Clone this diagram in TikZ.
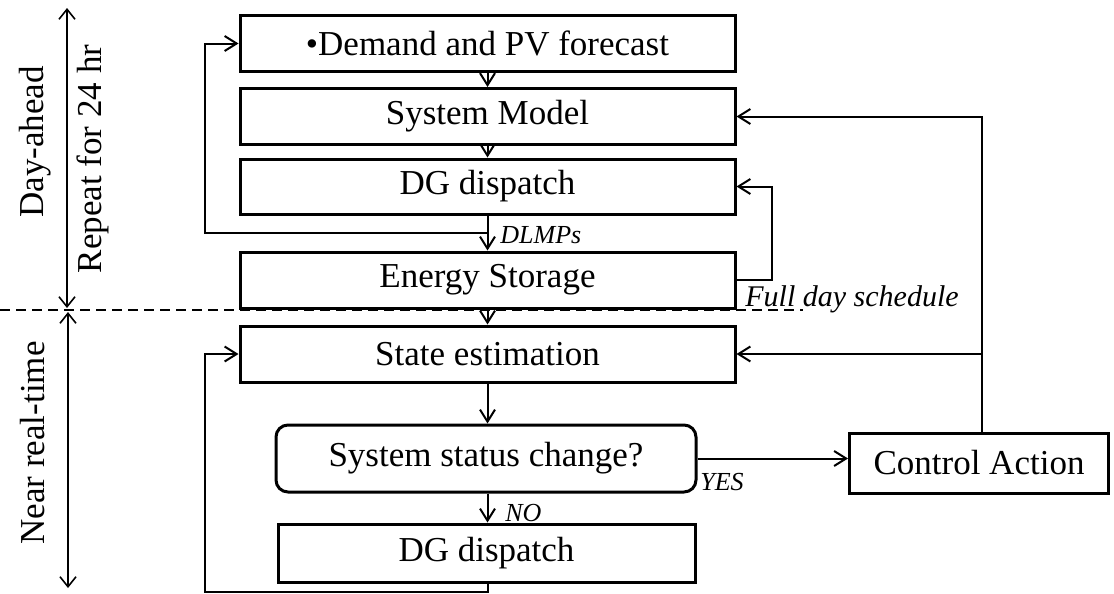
\documentclass[tikz,border=0pt]{standalone}
\usepackage{fontspec}
\setmainfont{Liberation Serif}
\usetikzlibrary{arrows.meta}
\begin{document}
\begin{tikzpicture}[x=0.5pt,y=-0.5pt,
  box/.style={draw, line width=1.5pt, inner sep=0pt, minimum width=247.5pt, minimum height=28pt, font=\fontsize{17.5}{20}\selectfont},
  arr/.style={line width=1pt, -{Straight Barb[length=6pt,width=7.5pt,line width=1pt]}},
  span/.style={line width=0.8pt, {Straight Barb[length=5pt,width=8pt,line width=0.8pt]}-{Straight Barb[length=5pt,width=8pt,line width=0.8pt]}},
  lab/.style={font=\fontsize{13}{15}\selectfont\itshape, inner sep=0pt},
  side/.style={font=\fontsize{17.5}{20}\selectfont, rotate=90, inner sep=0pt}]
\useasboundingbox (0,0) rectangle (1114,594);

% boxes
\node[box] (dem) at (487.5,43.5) {\textbullet Demand and PV forecast};
\node[box] (sysm) at (487.5,116.5) {System Model};
\node[box, minimum height=27.5pt] (dg1) at (487.5,186.5) {DG dispatch};
\node[box] (es) at (487.5,280) {Energy Storage};
\node[box] (se) at (487.5,354) {State estimation};
\node[box, rounded corners=6pt, minimum width=210pt, minimum height=33.5pt] (dec) at (486,458.5) {System status change?};
\node[box, minimum width=208.5pt, minimum height=29pt] (dg2) at (486.5,553) {DG dispatch};
\node[box, minimum width=129.5pt, minimum height=30pt] (ca) at (979,463) {Control Action};

% phase separator
\draw[line width=0.8pt, dash pattern=on 5pt off 3pt] (0,310) -- (803,310);

% side annotations
\coordinate (da1) at (67,8);
\coordinate (da2) at (67,308);
\coordinate (nr1) at (68,312);
\coordinate (nr2) at (68,588);
\draw[span] (da1) -- (da2);
\draw[span] (nr1) -- (nr2);
\node[side] (tday) at (35,142) {Day-ahead};
\node[side] (trep) at (93,159) {Repeat for 24 hr};
\node[side] (tnear) at (33,443) {Near real-time};

% main flow
\draw[arr] (dem.south) -- (sysm.north);
\draw[arr] (sysm.south) -- (dg1.north);
\draw[arr] (dg1.south) -- (es.north);
\draw[arr] (es.south) -- (se.north);
\draw[arr] (se.south) -- (se.south |- dec.north);
\draw[arr] (se.south |- dec.south) -- (se.south |- dg2.north);

% loops
\coordinate (dl) at (487.5,233);
\coordinate (l1) at (205,233);
\draw[arr] (dl) -- (l1) |- (dem.west);
\coordinate (b1) at (205,592);
\draw[arr] (se.south |- dg2.south) |- (b1) |- (se.west);
\draw[arr] (es.east) -- ++(35,0) |- (dg1.east);
\draw[arr] (dec.east) -- (dec.east -| ca.west);
\coordinate (cv) at (982,0);
\draw[arr] (cv |- ca.north) |- (sysm.east);
\draw[arr] (cv |- se.east) -- (se.east);

% labels
\node[lab, anchor=west] (tdlmp) at (500,235) {DLMPs};
\node[lab, anchor=west] (tyes) at (700,482) {YES};
\node[lab, anchor=west] (tno) at (505,513) {NO};
\node[lab, font=\fontsize{15}{17}\selectfont\itshape, anchor=base west] (tfull) at (745,306) {Full day schedule};
\end{tikzpicture}
\end{document}
